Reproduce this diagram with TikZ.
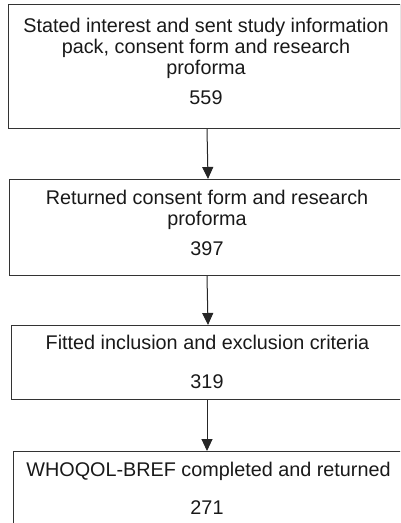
\documentclass[tikz,border=0pt]{standalone}
\usepackage{fontspec}
\setmainfont{Liberation Sans}
\usetikzlibrary{arrows.meta}
\begin{document}
\begin{tikzpicture}[x=1pt,y=-1pt,
  box/.style={draw=black!80,line width=1.1pt,rectangle,inner sep=0pt,anchor=north west},
  txt/.style={font=\fontsize{19.8}{21.5}\selectfont,anchor=base,inner sep=0pt,text=black!90},
  arr/.style={-{Triangle[width=11pt,length=12pt]},line width=1pt,draw=black!85}]
\useasboundingbox (0,0) rectangle (400,523);
\clip (0,0) rectangle (400,523);
% boxes
\node[box,minimum width=391.5pt,minimum height=124pt] (b1) at (8,4) {};
\node[box,minimum width=393pt,minimum height=96pt] (b2) at (9,179) {};
\node[box,minimum width=394pt,minimum height=74pt] (b3) at (11,325) {};
\node[box,minimum width=394pt,minimum height=80pt] (b4) at (12.7,451) {};
% texts
\node[txt] (t1a) at (206,32.3) {Stated interest and sent study information};
\node[txt] (t1b) at (206,53) {pack, consent form and research};
\node[txt] (t1c) at (206,74) {proforma};
\node[txt] (n1) at (206,104.3) {559};
\node[txt] (t2a) at (207,204) {Returned consent form and research};
\node[txt] (t2b) at (207,225.5) {proforma};
\node[txt] (n2) at (207,255) {397};
\node[txt] (t3a) at (207.5,349.3) {Fitted inclusion and exclusion criteria};
\node[txt] (n3) at (207,388.3) {319};
\node[txt] (t4a) at (208.5,476.7) {WHOQOL-BREF completed and returned};
\node[txt] (n4) at (207,514.3) {271};
% arrows
\draw[arr] ([xshift=199pt]b1.south west) -- ([xshift=199pt]b2.north west);
\draw[arr] ([xshift=198pt]b2.south west) -- ([xshift=197pt]b3.north west);
\draw[arr] ([xshift=196pt]b3.south west) -- ([xshift=194.3pt]b4.north west);
\end{tikzpicture}
\end{document}
